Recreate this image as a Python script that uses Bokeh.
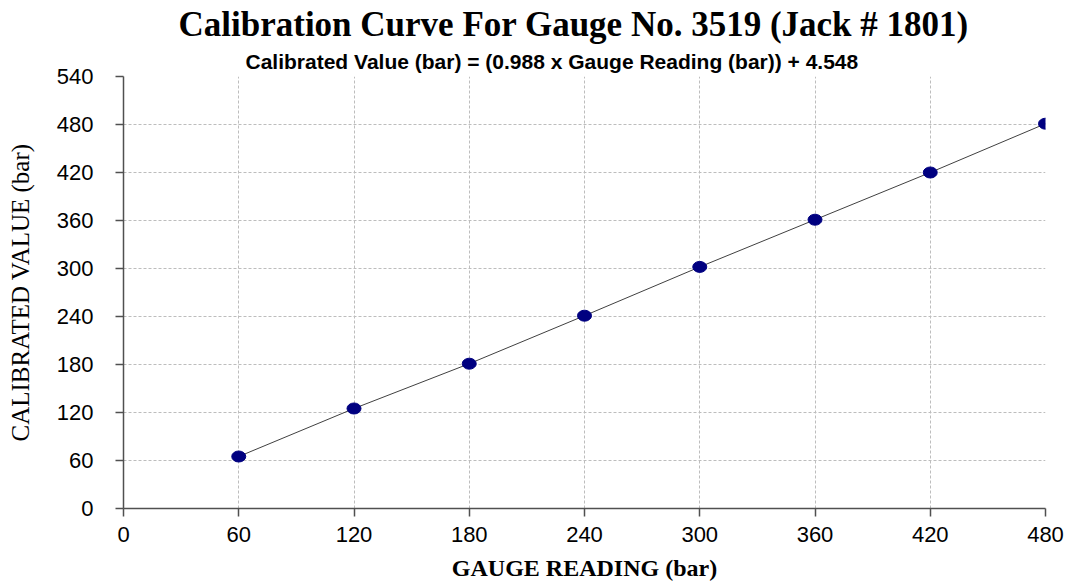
from bokeh.plotting import figure
from bokeh.models import Title, FixedTicker, Range1d
from bokeh.embed import file_html
from bokeh.resources import INLINE

# Data
gauge_reading = [60, 120, 180, 240, 300, 360, 420, 480]
calibrated_value = [65, 125, 181, 241, 302, 361, 420, 481]
x_ticks = [0, 60, 120, 180, 240, 300, 360, 420, 480]
y_ticks = [0, 60, 120, 180, 240, 300, 360, 420, 480, 540]

main_title = "Calibration Curve For Gauge No. 3519 (Jack # 1801)"
sub_title = "Calibrated Value (bar) = (0.988 x Gauge Reading (bar))  + 4.548"

p = figure(width=1068, height=584, output_backend="svg", toolbar_location=None,
           x_range=Range1d(0, 480), y_range=Range1d(0, 540),
           min_border_left=123, min_border_right=23, min_border_top=76, min_border_bottom=76)
p.title = None
p.outline_line_color = None
p.background_fill_color = "white"
p.border_fill_color = "white"

p.add_layout(Title(text=sub_title, align="left", text_font="Liberation Sans",
                   text_font_size="21px", text_font_style="bold", text_color="black",
                   offset=122, standoff=8), "above")
p.add_layout(Title(text=main_title, align="left", text_font="Liberation Serif",
                   text_font_size="35px", text_font_style="bold", text_color="black",
                   offset=55, standoff=0), "above")

for ax in (p.xaxis[0], p.yaxis[0]):
    ax.axis_line_color = "#505050"
    ax.axis_line_width = 1.5
    ax.major_tick_line_color = "#505050"
    ax.major_tick_line_width = 1.5
    ax.major_tick_in = 0
    ax.major_tick_out = 8
    ax.minor_tick_line_color = None
    ax.major_label_text_font = "Liberation Sans"
    ax.major_label_text_font_size = "22px"
    ax.major_label_text_color = "black"
    ax.axis_label_text_font = "Liberation Serif"
    ax.axis_label_text_color = "black"

p.xaxis.ticker = FixedTicker(ticks=x_ticks)
p.yaxis.ticker = FixedTicker(ticks=y_ticks)
p.xaxis.axis_label = "GAUGE READING (bar)"
p.yaxis.axis_label = "CALIBRATED VALUE (bar)"
p.xaxis.axis_label_text_font_size = "24px"
p.xaxis.axis_label_text_font_style = "bold"
p.yaxis.axis_label_text_font_size = "25px"
p.yaxis.axis_label_text_font_style = "normal"
p.xaxis.major_label_standoff = 10
p.yaxis.major_label_standoff = 22
p.xaxis.axis_label_standoff = 10
p.yaxis.axis_label_standoff = 20

for g in (p.xgrid[0], p.ygrid[0]):
    g.grid_line_color = "#bdbdbd"
    g.grid_line_dash = "3 2"
    g.grid_line_width = 1

p.line(gauge_reading, calibrated_value, line_color="#404040", line_width=1)
p.ellipse(gauge_reading, calibrated_value, width=14, height=11, width_units="screen",
          height_units="screen", fill_color="#000080", line_color="#000080")

open("out.html", "w").write(file_html(p, INLINE))
